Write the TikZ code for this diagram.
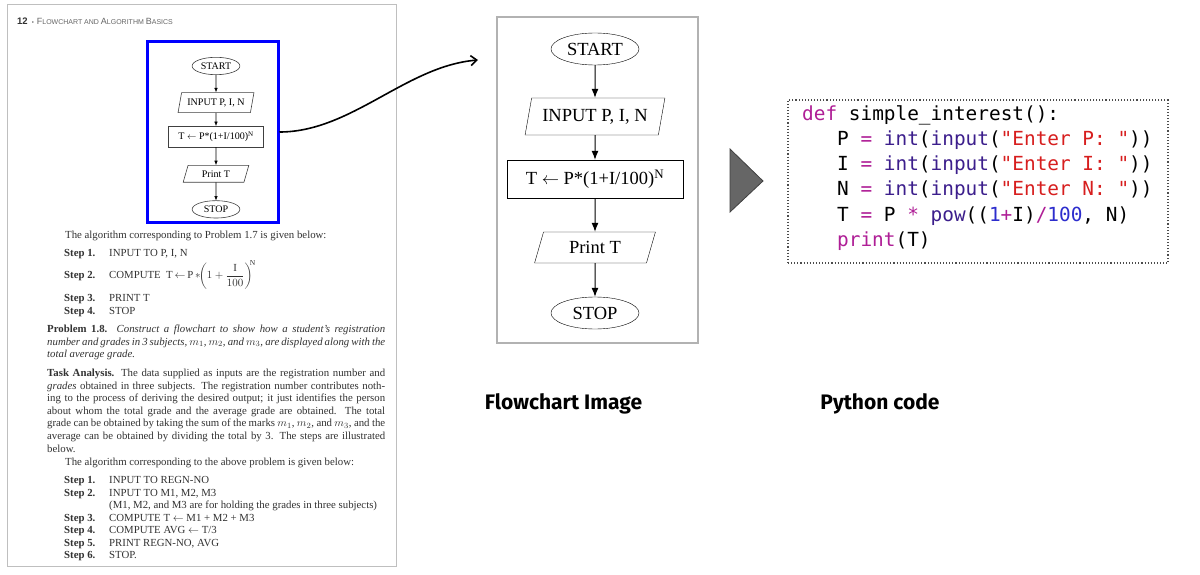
\documentclass[tikz,border=0pt]{standalone}
\usepackage{fontspec}
\usepackage{amsmath}
\setmainfont{Liberation Serif}
\setsansfont{Liberation Sans}
\newfontfamily\codefont{DejaVu Sans Mono}
\newfontfamily\labelfont{Fira Sans}
\usetikzlibrary{shapes.geometric,arrows.meta}

\definecolor{kwcol}{RGB}{175,30,150}
\definecolor{fncol}{RGB}{60,30,140}
\definecolor{strcol}{RGB}{215,30,30}
\definecolor{numcol}{RGB}{45,45,205}
\definecolor{textgray}{RGB}{50,50,50}

\newcommand\pagefont{\fontsize{10.8}{12.6}\selectfont}
\newcommand\jline[1]{\makebox[338pt][s]{#1}}
\newcommand\kw[1]{\textcolor{kwcol}{#1}}
\newcommand\fn[1]{\textcolor{fncol}{#1}}
\newcommand\str[1]{\textcolor{strcol}{#1}}
\newcommand\num[1]{\textcolor{numcol}{#1}}
\newcommand\hdbig[1]{{\fontsize{9}{10}\selectfont #1}}
\newcommand\hdsmall[1]{{\fontsize{7}{10}\selectfont #1}}

% flowchart, START at (0,0)
\newcommand\flowchart[1]{%
  \node[term] (#1start) at (0,0) {START};
  \node[io, minimum width=140pt, minimum height=37pt] (#1input) at (0,67.5) {INPUT P, I, N};
  \node[proc] (#1comp) at (0,130) {T $\leftarrow$ P*(1+I/100)\textsuperscript{N}};
  \node[io, minimum width=121pt, minimum height=31pt] (#1print) at (0,198.5) {Print T};
  \node[term] (#1stop) at (0,264) {STOP};
  \draw[flow] (#1start) -- (#1input);
  \draw[flow] (#1input) -- (#1comp);
  \draw[flow] (#1comp) -- (#1print);
  \draw[flow] (#1print) -- (#1stop);
}

\begin{document}
\begin{tikzpicture}[
    x=1pt, y=-1pt,
    txt/.style={
        inner sep=0,
        anchor=base west,
        font=\pagefont,
        text=textgray
    },
    steplbl/.style={
        txt,
        font=\pagefont\bfseries
    },
    para/.style={
        txt,
        align=left
    },
    term/.style={
        draw,
        ellipse,
        minimum width=88pt,
        minimum height=32pt,
        inner sep=0,
        font=\fontsize{18.5}{20}\selectfont
    },
    io/.style={
        draw,
        trapezium,
        trapezium left angle=70,
        trapezium right angle=110,
        trapezium stretches=true,
        inner sep=0,
        font=\fontsize{18.5}{20}\selectfont
    },
    proc/.style={
        draw,
        minimum width=176pt,
        minimum height=38pt,
        inner sep=0,
        font=\fontsize{18.5}{20}\selectfont
    },
    flow/.style={
        -{Latex[length=9pt,width=7pt]},
        line width=1pt
    },
    frame/.style={
        draw=black!25,
        line width=1pt,
        inner sep=0
    },
    codeline/.style={
        inner sep=0,
        anchor=base west,
        font=\codefont\fontsize{19.4}{25}\selectfont
    },
    label/.style={
        inner sep=0,
        anchor=base,
        font=\labelfont\bfseries\fontsize{21}{24}\selectfont
    }
]

\fill[white] (0,0) rectangle (1200,575);
\useasboundingbox (0,0) rectangle (1200,575);

% =====================
% Book page
% =====================
\node[frame, minimum width=389pt, minimum height=561pt] (page) at (201.5,285.5) {};
\node[txt, font=\sffamily] (hdr) at (17,24.5)
    {{\fontsize{9.5}{10}\selectfont\bfseries 12}\hspace{4pt}\textcolor{black!60}{{\fontsize{6}{8}\selectfont\textbullet}\hspace{3pt}\hdbig{F}\hdsmall{LOWCHART AND }\hdbig{A}\hdsmall{LGORITHM }\hdbig{B}\hdsmall{ASICS}}};

\begin{scope}[shift={(216,66)}, scale=0.543, transform shape,
    flow/.style={-{Latex[length=4.5pt,width=3.5pt]}, line width=0.6pt},
    every node/.append style={draw=black!75, line width=0.6pt}]
  \flowchart{s}
\end{scope}
\node[draw=blue, line width=3pt, minimum width=131pt, minimum height=180pt, inner sep=0] (zoombox) at (212.5,132) {};

\node[txt] (intro1) at (65,238.5) {The algorithm corresponding to Problem 1.7 is given below:};
\node[steplbl] (s1) at (64,256.5) {Step 1.};
\node[txt] (s1t) at (109,256.5) {INPUT TO P, I, N};
\node[steplbl] (s2) at (64,278.5) {Step 2.};
\node[txt] (s2t) at (109,278.5) {COMPUTE\ \ T\,$\leftarrow$\,P\,$*\!\biggl(1+\dfrac{\mathrm{I}}{100}\biggr)^{\!\!\mathrm{N}}$};
\node[steplbl] (s3) at (64,301.5) {Step 3.};
\node[txt] (s3t) at (109,301.5) {PRINT T};
\node[steplbl] (s4) at (64,314.5) {Step 4.};
\node[txt] (s4t) at (109,314.5) {STOP};

% anchored at the last line
\node[para] (prob) at (47,357.7) {%
\jline{\textbf{Problem 1.8.} \textit{Construct a flowchart to show how a student's registration}}\\
\jline{\textit{number and grades in 3 subjects, $m_1$, $m_2$, and $m_3$, are displayed along with the}}\\
\textit{total average grade.}};

\node[para] (task) at (47,452.1) {%
\jline{\textbf{Task Analysis.} The data supplied as inputs are the registration number and}\\
\jline{\textit{grades} obtained in three subjects. The registration number contributes noth-}\\
\jline{ing to the process of deriving the desired output; it just identifies the person}\\
\jline{about whom the total grade and the average grade are obtained. The total}\\
\jline{grade can be obtained by taking the sum of the marks $m_1$, $m_2$, and $m_3$, and the}\\
\jline{average can be obtained by dividing the total by 3. The steps are illustrated}\\
below.};

\node[txt] (intro2) at (65,465.5) {The algorithm corresponding to the above problem is given below:};
\node[steplbl] (t1) at (64,483.5) {Step 1.};
\node[txt] (t1t) at (109,483.5) {INPUT TO REGN-NO};
\node[steplbl] (t2) at (64,496) {Step 2.};
\node[txt] (t2t) at (109,496) {INPUT TO M1, M2, M3};
\node[txt] (t2p) at (109,508.5) {(M1, M2, and M3 are for holding the grades in three subjects)};
\node[steplbl] (t3) at (64,521) {Step 3.};
\node[txt] (t3t) at (109,521) {COMPUTE T $\leftarrow$ M1 + M2 + M3};
\node[steplbl] (t4) at (64,533.5) {Step 4.};
\node[txt] (t4t) at (109,533.5) {COMPUTE AVG $\leftarrow$ T/3};
\node[steplbl] (t5) at (64,546) {Step 5.};
\node[txt] (t5t) at (109,546) {PRINT REGN-NO, AVG};
\node[steplbl] (t6) at (64,558.5) {Step 6.};
\node[txt] (t6t) at (109,558.5) {STOP.};

% =====================
% Flowchart image
% =====================
\coordinate (arrowend) at (478,60);
\draw[line width=1.6pt, -{Straight Barb[length=6pt,width=10pt]}]
    (zoombox.east) .. controls +(72,0) and +(-72,6) .. (arrowend);

\node[frame, draw=black!30, line width=1.2pt, minimum width=201pt, minimum height=326pt] (panel) at (597.5,180) {};
\begin{scope}[shift={(595,49)}]
  \flowchart{m}
\end{scope}
\node[label] (flabel) at (563.5,409) {Flowchart Image};

% =====================
% Python code
% =====================
\fill[black!60, draw=black!75, line width=0.8pt] (730,149) -- (763,181) -- (730,212) -- cycle;

\node[draw=black!70, dotted, line width=1.1pt, minimum width=380pt, minimum height=163pt, inner sep=0] (codebox) at (978,181.5) {};
\node[codeline] (c1) at (802,121) {\kw{def} simple\char95 interest():};
\node[codeline] (c2) at (837,146) {P \kw{=} \fn{int}(\fn{input}(\str{"Enter P: "}))};
\node[codeline] (c3) at (837,171) {I \kw{=} \fn{int}(\fn{input}(\str{"Enter I: "}))};
\node[codeline] (c4) at (837,196) {N \kw{=} \fn{int}(\fn{input}(\str{"Enter N: "}))};
\node[codeline] (c5) at (837,221) {T \kw{=} P \kw{*} \fn{pow}((\num{1}\kw{+}I)\kw{/}\num{100}, N)};
\node[codeline] (c6) at (837,246) {\kw{print}(T)};
\node[label] (plabel) at (880,409) {Python code};

\end{tikzpicture}
\end{document}
